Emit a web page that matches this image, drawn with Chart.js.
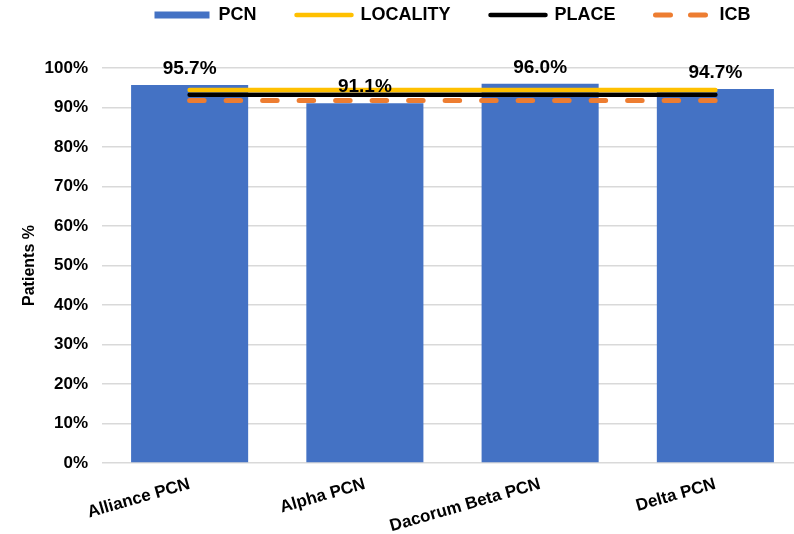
<!DOCTYPE html>
<html lang="en">
<head>
<meta charset="UTF-8">
<title>Patients % by PCN</title>
<script src="https://cdn.jsdelivr.net/npm/chart.js"></script>
<style>
    body { margin: 0; background: #ffffff; overflow: hidden; }
    .wrap { width: 803px; height: 534px; position: relative; }
</style>
</head>
<body>
<div class="wrap"><canvas id="pcnChart"></canvas></div>
<script>
// data
const categories = ['Alliance PCN', 'Alpha PCN', 'Dacorum Beta PCN', 'Delta PCN'];
const pcnValues = [95.7, 91.1, 96.0, 94.7];
const localityValues = [94.4, 94.4, 94.4, 94.4];
const placeValues = [93.2, 93.2, 93.2, 93.2];
const icbValues = [91.8, 91.8, 91.8, 91.8];
const yMin = 0, yMax = 100, yStep = 10;

const FONT = "'Liberation Sans', Arial, sans-serif";
const BLUE = '#4472c4', YELLOW = '#ffc000', BLACK = '#000000', ORANGE = '#ed7d31';
const ICB_DASH = [14.5, 22];
const ICB_LEGEND_DASH = [15, 20];

// value labels above the bars
const barLabels = {
    id: 'barLabels',
    afterDatasetsDraw(chart) {
        const ctx = chart.ctx;
        const meta = chart.getDatasetMeta(0);
        ctx.save();
        ctx.font = 'bold 19px ' + FONT;
        ctx.fillStyle = '#000';
        ctx.textAlign = 'center';
        ctx.textBaseline = 'alphabetic';
        meta.data.forEach((bar, i) => {
            ctx.fillText(pcnValues[i].toFixed(1) + '%', bar.x, bar.y - 11);
        });
        ctx.restore();
    }
};

// give the legend a fixed height so the plot starts where the reference does
const legendHeight = {
    id: 'legendHeight',
    beforeInit(chart) {
        const origFit = chart.legend.fit;
        chart.legend.fit = function () {
            origFit.call(this);
            this.height = 102;
        };
    }
};

new Chart(document.getElementById('pcnChart'), {
    data: {
        labels: categories,
        datasets: [
            { type: 'bar', label: 'PCN', data: pcnValues, backgroundColor: BLUE, order: 10,
              barPercentage: 0.668, categoryPercentage: 1 },
            { type: 'line', label: 'LOCALITY', data: localityValues, borderColor: YELLOW, borderWidth: 4.5,
              pointRadius: 0, borderCapStyle: 'round', order: 1 },
            { type: 'line', label: 'PLACE', data: placeValues, borderColor: BLACK, borderWidth: 4.5,
              pointRadius: 0, borderCapStyle: 'round', order: 2 },
            { type: 'line', label: 'ICB', data: icbValues, borderColor: ORANGE, borderWidth: 5,
              borderDash: ICB_DASH, pointRadius: 0, borderCapStyle: 'round', order: 3 }
        ]
    },
    options: {
        responsive: true,
        maintainAspectRatio: false,
        animation: false,
        layout: { padding: { top: -34, left: 16, right: 0, bottom: 0 } },
        plugins: {
            tooltip: { enabled: false },
            legend: {
                position: 'top',
                fullSize: false,
                labels: {
                    font: { family: FONT, size: 18, weight: 'bold' },
                    color: '#000',
                    usePointStyle: true,
                    pointStyleWidth: 55,
                    boxHeight: 7,
                    padding: 40,
                    generateLabels() {
                        return [
                            { text: 'PCN', pointStyle: 'rect', fillStyle: BLUE, strokeStyle: BLUE, lineWidth: 0, datasetIndex: 0 },
                            { text: 'LOCALITY', pointStyle: 'line', fillStyle: YELLOW, strokeStyle: YELLOW, lineWidth: 4.5, lineCap: 'round', datasetIndex: 1 },
                            { text: 'PLACE', pointStyle: 'line', fillStyle: BLACK, strokeStyle: BLACK, lineWidth: 4.5, lineCap: 'round', datasetIndex: 2 },
                            { text: 'ICB', pointStyle: 'line', fillStyle: ORANGE, strokeStyle: ORANGE, lineWidth: 5, lineCap: 'round', lineDash: ICB_LEGEND_DASH, datasetIndex: 3 }
                        ];
                    }
                }
            }
        },
        scales: {
            x: {
                grid: { display: false, drawTicks: false },
                border: { display: false },
                afterFit(scale) { scale.height = 71; },
                ticks: {
                    color: '#000',
                    font: { family: FONT, size: 17, weight: 'bold' },
                    minRotation: 16, maxRotation: 16, padding: 11
                }
            },
            y: {
                min: yMin, max: yMax,
                grid: { color: '#d9d9d9', lineWidth: 1.5, drawTicks: false },
                border: { display: false },
                afterFit(scale) { scale.width = 86; },
                title: {
                    display: true, text: 'Patients %', color: '#000',
                    font: { family: FONT, size: 16, weight: 'bold' }
                },
                ticks: {
                    stepSize: yStep, padding: 14, color: '#000',
                    font: { family: FONT, size: 17, weight: 'bold' },
                    callback: v => v + '%'
                }
            }
        }
    },
    plugins: [barLabels, legendHeight]
});
</script>
</body>
</html>
